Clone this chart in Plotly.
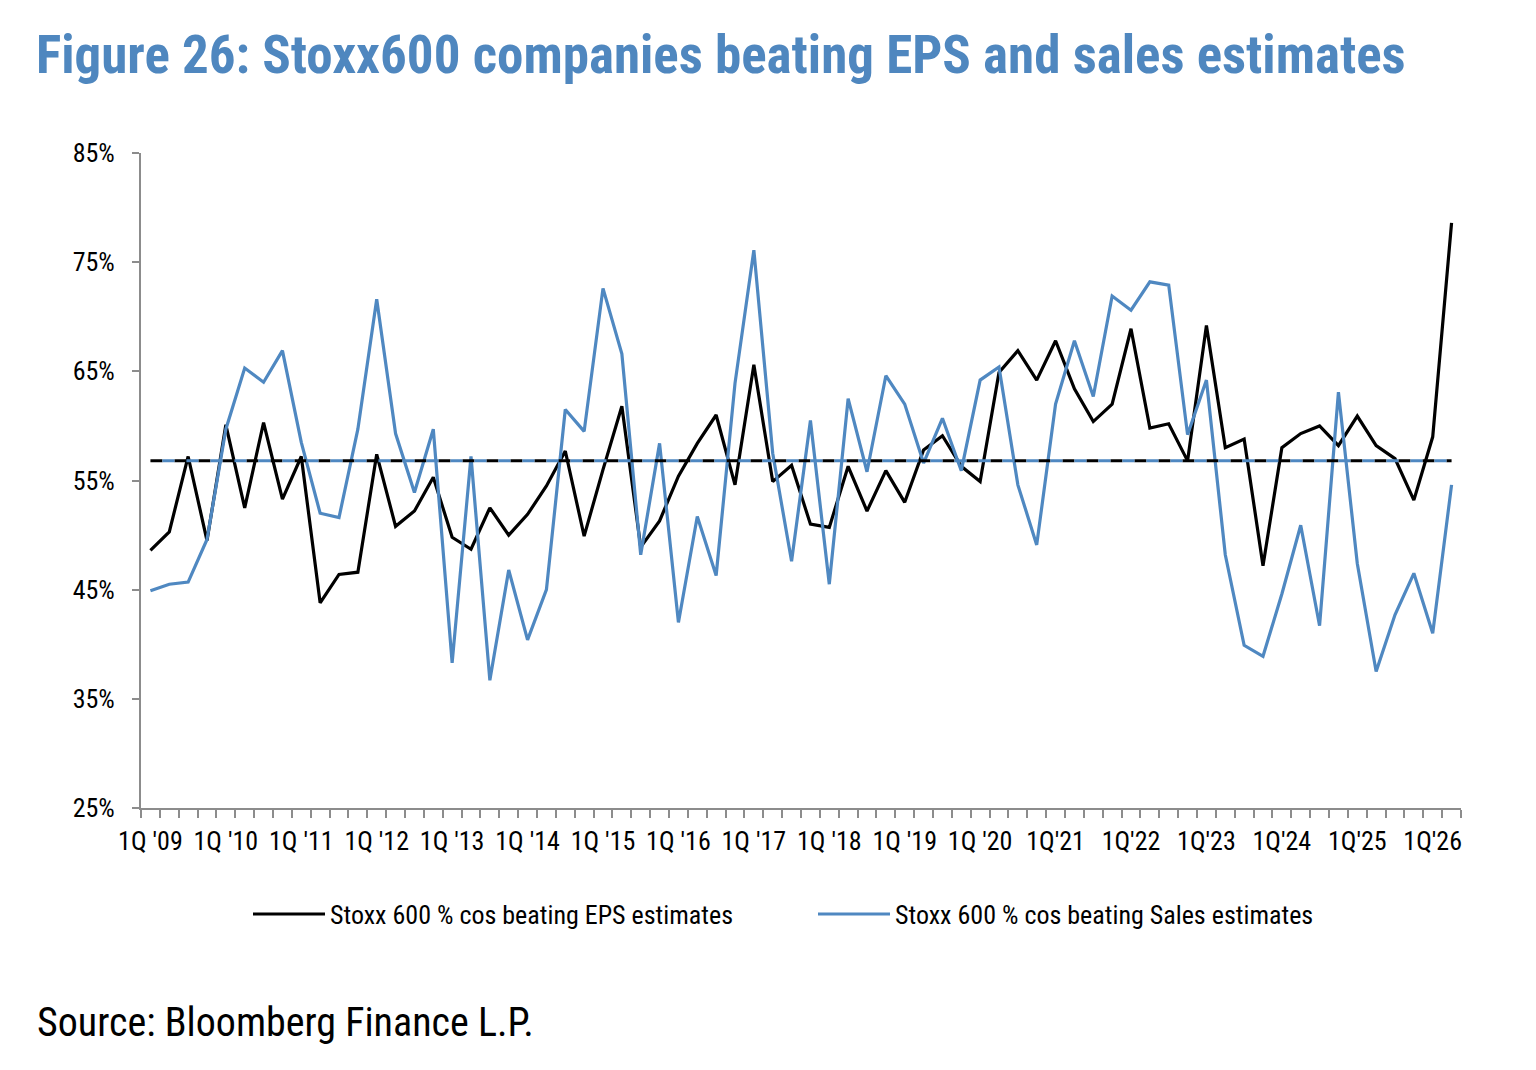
import plotly.graph_objects as go

# Quarter categories 1Q'09 .. 2Q'26
years = list(range(2009, 2027))
quarters = []
for y in years:
    for q in range(1, 5):
        quarters.append(f"{q}Q'{str(y)[2:]}")
quarters = quarters[:70]

tick_labels = ["1Q '09", "1Q '10", "1Q '11", "1Q '12", "1Q '13", "1Q '14", "1Q '15",
               "1Q '16", "1Q '17", "1Q '18", "1Q '19", "1Q '20", "1Q'21", "1Q'22",
               "1Q'23", "1Q'24", "1Q'25", "1Q'26"]

eps_beat = [48.6, 50.3, 57.2, 49.5, 60.1, 52.5, 60.3, 53.3, 57.2, 43.8,
            46.4, 46.6, 57.4, 50.8, 52.2, 55.3, 49.8, 48.7, 52.5, 50.0,
            51.9, 54.5, 57.7, 49.9, 56.0, 61.8, 48.9, 51.3, 55.4, 58.4,
            61.0, 54.6, 65.6, 54.9, 56.4, 51.0, 50.7, 56.3, 52.2, 55.9,
            53.0, 57.8, 59.1, 56.3, 54.9, 64.9, 66.9, 64.2, 67.8, 63.4,
            60.4, 62.0, 68.9, 59.8, 60.2, 56.8, 69.2, 58.0, 58.8, 47.2,
            58.0, 59.3, 60.0, 58.2, 60.9, 58.2, 57.0, 53.2, 59.0, 78.6]

sales_beat = [44.9, 45.5, 45.7, 49.6, 59.7, 65.3, 64.0, 66.9, 58.5, 52.0,
              51.6, 59.7, 71.6, 59.3, 53.9, 59.7, 38.3, 57.2, 36.7, 46.8,
              40.4, 45.0, 61.5, 59.5, 72.6, 66.6, 48.2, 58.4, 42.0, 51.7,
              46.3, 63.9, 76.1, 57.5, 47.6, 60.5, 45.5, 62.5, 55.8, 64.6,
              62.0, 56.6, 60.7, 55.9, 64.2, 65.4, 54.6, 49.1, 62.0, 67.8,
              62.7, 71.9, 70.6, 73.2, 72.9, 59.2, 64.2, 48.2, 39.9, 38.9,
              44.6, 50.9, 41.7, 63.1, 47.4, 37.5, 42.7, 46.5, 41.0, 54.6]

eps_avg = 56.8
sales_avg = 56.8

BLACK = "#000000"
BLUE = "#4F88C1"
FONT = "Liberation Sans Narrow, Arial Narrow, Roboto Condensed, DejaVu Sans Condensed, sans-serif"

idx = list(range(len(quarters)))
tick_idx = [i for i, q in enumerate(quarters) if q.startswith("1Q")]

fig = go.Figure()
fig.add_trace(go.Scatter(x=idx, y=eps_beat, mode="lines", name="Stoxx 600 % cos beating EPS estimates",
                         line=dict(color=BLACK, width=3.2), customdata=quarters))
fig.add_trace(go.Scatter(x=idx, y=sales_beat, mode="lines", name="Stoxx 600 % cos beating Sales estimates",
                         line=dict(color=BLUE, width=3.2), customdata=quarters))
fig.add_trace(go.Scatter(x=idx, y=[eps_avg] * len(idx), mode="lines", showlegend=False,
                         line=dict(color=BLACK, width=3, dash="12px,12px")))
fig.add_trace(go.Scatter(x=idx, y=[sales_avg] * len(idx), mode="lines", showlegend=False,
                         line=dict(color=BLUE, width=3, dash="0px,12px,12px,0px")))

fig.update_layout(
    width=1536, height=1070,
    margin=dict(l=141, r=75, t=153, b=262),
    paper_bgcolor="white", plot_bgcolor="white",
    font=dict(family=FONT, color="black", size=26),
    showlegend=True,
    legend=dict(orientation="h", x=(248 - 141) / 1320, xanchor="left", y=-0.162, yanchor="middle",
                font=dict(size=26, family=FONT), entrywidth=478, entrywidthmode="pixels",
                bgcolor="rgba(0,0,0,0)", itemwidth=72, tracegroupgap=0),
    annotations=[
        dict(text="<b>Figure 26: Stoxx600 companies beating EPS and sales estimates</b>",
             xref="paper", yref="paper", x=(34 - 141) / 1320, y=1 + (153 - 55) / 655,
             xanchor="left", yanchor="middle", showarrow=False,
             font=dict(size=53, color="#4F87BF", family=FONT)),
        dict(text="Source: Bloomberg Finance L.P.",
             xref="paper", yref="paper", x=(35 - 141) / 1320, y=(808 - 1022) / 655,
             xanchor="left", yanchor="middle", showarrow=False,
             font=dict(size=40, color="black", family=FONT)),
    ],
)

fig.update_xaxes(
    range=[-0.5, len(idx) - 0.5],
    tickmode="array", tickvals=tick_idx, ticktext=tick_labels,
    ticks="", ticklabelstandoff=9,
    showline=True, linecolor="#8C8C8C", linewidth=2,
    showgrid=False, zeroline=False,
    tickfont=dict(size=26, family=FONT),
    minor=dict(tickmode="linear", tick0=-0.5, dtick=1, ticks="outside", ticklen=8,
               tickcolor="#8C8C8C", tickwidth=2, showgrid=False),
)
fig.update_yaxes(
    range=[25, 85], tickmode="linear", tick0=25, dtick=10, ticksuffix="%",
    ticks="outside", ticklen=7, tickcolor="#8C8C8C", tickwidth=2,
    showline=True, linecolor="#8C8C8C", linewidth=2,
    showgrid=False, zeroline=False, ticklabelstandoff=12,
    tickfont=dict(size=26, family=FONT),
)

fig.write_html("out.html")
